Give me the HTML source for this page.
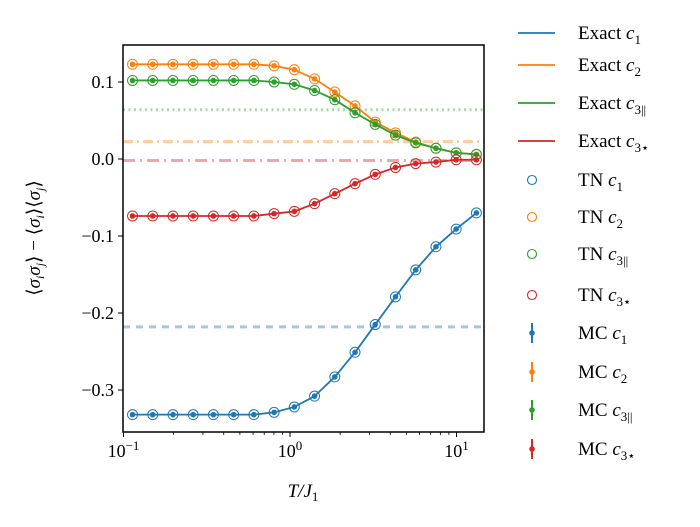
<!DOCTYPE html>
<html><head><meta charset="utf-8"><style>
body{margin:0;background:#fff}
svg{display:block;font-family:"Liberation Serif",serif}
</style></head><body>
<svg id="chart" width="700" height="527" viewBox="0 0 700 527" xmlns="http://www.w3.org/2000/svg"></svg>
<script>
const temps = Array.from({length:18},(_,k)=>Math.pow(10,-0.946+k*0.1215));
const c1 = [-0.332,-0.332,-0.332,-0.332,-0.332,-0.332,-0.332,-0.329,-0.322,-0.308,-0.283,-0.251,-0.215,-0.179,-0.144,-0.114,-0.091,-0.070];
const c2 = [0.123,0.123,0.123,0.123,0.123,0.123,0.123,0.121,0.116,0.104,0.087,0.069,0.048,0.034,0.022,0.014,0.008,0.006];
const c3par = [0.102,0.102,0.102,0.102,0.102,0.102,0.102,0.100,0.097,0.089,0.077,0.060,0.045,0.031,0.021,0.014,0.008,0.006];
const c3star = [-0.074,-0.074,-0.074,-0.074,-0.074,-0.074,-0.074,-0.071,-0.068,-0.058,-0.045,-0.032,-0.020,-0.011,-0.006,-0.004,-0.001,-0.001];
const groundStates = [-0.218,0.0225,0.064,-0.002];
const yTicks = [0.1,0.0,-0.1,-0.2,-0.3];
const yTickLabels = ["0.1","0.0","\u22120.1","\u22120.2","\u22120.3"];
const xTicks = [0.1,1,10];

const L=123,R=484,T=45,B=432;
const X=v=>290+Math.log10(v)*166.5;
const Y=v=>159-v*770;
const svg=document.getElementById('chart');
const NS="http://www.w3.org/2000/svg";
function mk(tag,attrs,parent){const e=document.createElementNS(NS,tag);for(const k in attrs)e.setAttribute(k,attrs[k]);(parent||svg).appendChild(e);return e;}

const cols={c1:"#1f77b4",c2:"#ff7f0e",c3:"#2ca02c",c4:"#d62728"};
const clip=mk('clipPath',{id:'pc'});mk('rect',{x:L,y:T,width:R-L,height:B-T},clip);
const g=mk('g',{'clip-path':'url(#pc)'});



const dash=["7,6","10,4,2,4","2,3.5","12,5,2,5"];
const gcol=[cols.c1,cols.c2,cols.c3,cols.c4];
const gnames=['ground-c1-line','ground-c2-line','ground-c3par-line','ground-c3star-line'];
groundStates.forEach((v,i)=>{const l=mk('line',{x1:L,x2:R,y1:Y(v),y2:Y(v),stroke:gcol[i],'stroke-width':3,'stroke-dasharray':dash[i],opacity:0.4},g);

});

const series=[[c1,cols.c1,'c1'],[c2,cols.c2,'c2'],[c3par,cols.c3,'c3par'],[c3star,cols.c4,'c3star']];
series.forEach(([d,c,n])=>{
  const pts=d.map((v,i)=>X(temps[i])+','+Y(v)).join(' ');
  const pl=mk('polyline',{points:pts,fill:'none',stroke:c,'stroke-width':1.8},g);
  
  
  d.forEach((v,i)=>{
    const ci=mk('circle',{cx:X(temps[i]),cy:Y(v),r:5,fill:'none',stroke:c,'stroke-width':1},g);
    
    
    const m=mk('circle',{cx:X(temps[i]),cy:Y(v),r:2.8,fill:c},g);
    
    
  });
});

const fr=mk('rect',{x:L,y:T,width:R-L,height:B-T,fill:'none',stroke:'#000','stroke-width':1.5});



yTicks.forEach((v,i)=>{mk('line',{x1:L-5,x2:L,y1:Y(v),y2:Y(v),stroke:'#000','stroke-width':1});
  const t=mk('text',{x:L-9,y:Y(v)+6,'text-anchor':'end','font-size':18});t.textContent=yTickLabels[i];
  
  });
xTicks.forEach((v,i)=>{mk('line',{x1:X(v),x2:X(v),y1:B,y2:B+5,stroke:'#000','stroke-width':1});
  const t=mk('text',{x:X(v),y:B+25,'text-anchor':'middle','font-size':18});
  t.innerHTML='10<tspan dy="-7" font-size="13">'+(i-1<0?'\u22121':(i-1))+'</tspan>';
  
  });
for(let d=-1;d<=1;d++)for(let m=2;m<=9;m++){const v=m*Math.pow(10,d);if(X(v)<R)mk('line',{x1:X(v),x2:X(v),y1:B,y2:B+3,stroke:'#000','stroke-width':0.8});}

const xl=mk('text',{x:303,y:497,'text-anchor':'middle','font-size':19,'font-style':'italic'});
xl.innerHTML='T/J<tspan font-style="normal" font-size="13" dy="4">1</tspan>';


const yl=mk('text',{x:0,y:0,'text-anchor':'middle','font-size':19,transform:'translate(40,238) rotate(-90)'});
yl.innerHTML='⟨<tspan font-style="italic">σ</tspan><tspan font-size="12" dy="4" font-style="italic">i</tspan><tspan dy="-4" font-style="italic">σ</tspan><tspan font-size="12" dy="4" font-style="italic">j</tspan><tspan dy="-4">⟩ − ⟨</tspan><tspan font-style="italic">σ</tspan><tspan font-size="12" dy="4" font-style="italic">i</tspan><tspan dy="-4">⟩⟨</tspan><tspan font-style="italic">σ</tspan><tspan font-size="12" dy="4" font-style="italic">j</tspan><tspan dy="-4">⟩</tspan>';



const subs=['1','2','3||','3⋆'];const lc=[cols.c1,cols.c2,cols.c3,cols.c4];
const ly1=[33,65,103,141],ly2=[180,217,254,295],ly3=[333,372,410,449];
function lab(y,pre,s){const t=mk('text',{x:578,y:y+6,'font-size':19});
  t.innerHTML=pre+' <tspan font-style="italic">c</tspan><tspan font-size="13" dy="5">'+s+'</tspan>';
  
  }
for(let i=0;i<4;i++){
  const a=mk('line',{x1:518,x2:555,y1:ly1[i],y2:ly1[i],stroke:lc[i],'stroke-width':1.8});
  
  
  lab(ly1[i],'Exact',subs[i]);
  const b=mk('circle',{cx:532,cy:ly2[i],r:4.5,fill:'none',stroke:lc[i],'stroke-width':1.1});
  
  
  lab(ly2[i],'TN',subs[i]);
  mk('line',{x1:532,x2:532,y1:ly3[i]-10,y2:ly3[i]+10,stroke:lc[i],'stroke-width':2});
  const c=mk('circle',{cx:532,cy:ly3[i],r:2.8,fill:lc[i]});
  
  
  lab(ly3[i],'MC',subs[i]);
}
</script>
</body></html>
